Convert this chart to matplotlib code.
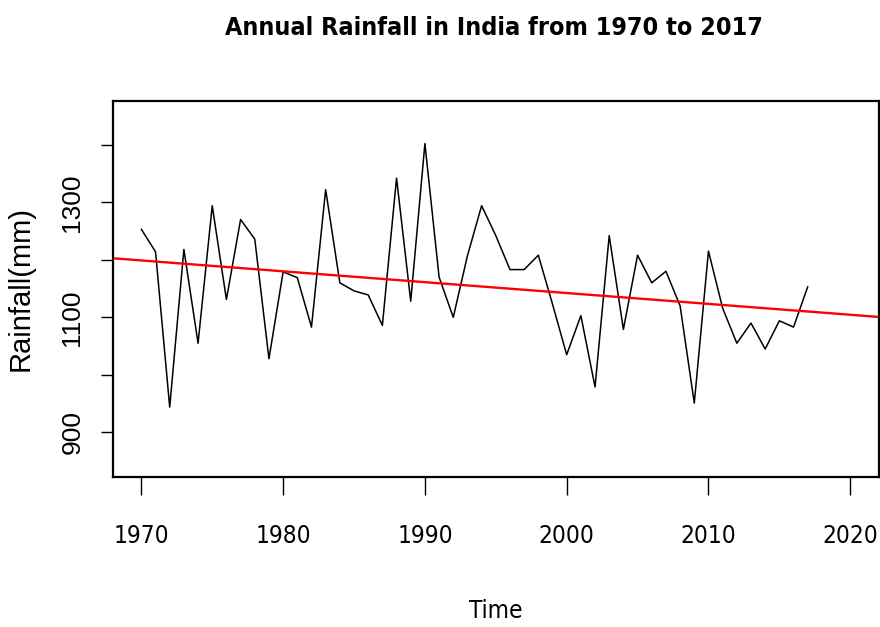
import numpy as np
import matplotlib
matplotlib.use('Agg')
import matplotlib.pyplot as plt

# annual rainfall (mm)
years = list(range(1970, 2018))
rainfall = [1253, 1214, 944, 1218, 1055, 1294, 1131, 1270, 1236, 1028,
            1179, 1169, 1083, 1322, 1160, 1146, 1139, 1086, 1342, 1128,
            1402, 1170, 1100, 1207, 1294, 1242, 1183, 1183, 1208, 1123,
            1035, 1103, 979, 1242, 1079, 1208, 1160, 1180, 1120, 951,
            1215, 1116, 1055, 1090, 1045, 1094, 1083, 1153]

xticks = [1970, 1980, 1990, 2000, 2010, 2020]
yticks = [900, 1000, 1100, 1200, 1300, 1400]
ytick_labels = ['900', '', '1100', '', '1300', '']

narrow = ['Liberation Sans Narrow', 'DejaVu Sans']
plain = ['Liberation Sans', 'DejaVu Sans']

fig = plt.figure(figsize=(8.8, 6.27), dpi=100)
ax = fig.add_axes([0.1284, 0.2397, 0.87, 0.5992])

ax.plot(years, rainfall, color='black', lw=1.1)

# linear trend across the whole plot area
slope, icpt = np.polyfit(years, rainfall, 1)
xl = np.array([1968, 2022])
ax.plot(xl, icpt + slope * xl, color='red', lw=1.7)

ax.set_xlim(1968, 2022)
ax.set_ylim(823, 1476)

ax.set_xticks(xticks)
ax.set_xticklabels([str(t) for t in xticks], family=narrow, stretch='condensed', fontsize=17.5)
ax.set_yticks(yticks)
ax.set_yticklabels(ytick_labels, family=plain, fontsize=19, rotation=90, va='center')

ax.tick_params(axis='x', length=13, width=1, pad=21)
ax.tick_params(axis='y', length=8.6, width=1, pad=12)
for s in ax.spines.values():
    s.set_linewidth(1.6)

ax.set_xlabel('Time', family=narrow, stretch='condensed', fontsize=17.5)
ax.xaxis.set_label_coords(0.5, -0.325)
ax.set_ylabel('Rainfall(mm)', family=plain, fontsize=21)
ax.yaxis.set_label_coords(-0.102, 0.5)

fig.text(0.561, 0.955, 'Annual Rainfall in India from 1970 to 2017',
         family=narrow, stretch='condensed', fontweight='bold', fontsize=18,
         ha='center', va='center')

fig.savefig('out.png', dpi=100)
